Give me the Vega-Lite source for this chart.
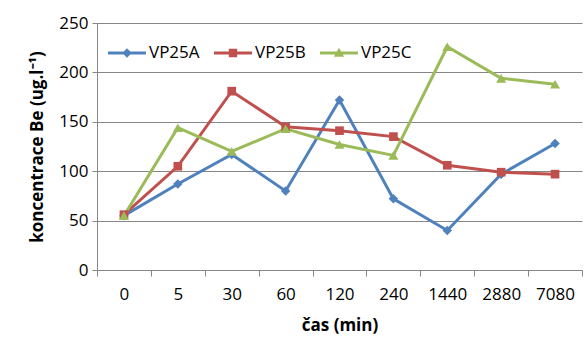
{
  "$schema": "https://vega.github.io/schema/vega-lite/v6.json",
  "width": 485,
  "height": 247,
  "autosize": {"type": "none"},
  "padding": {"left": 97, "top": 23, "right": 5, "bottom": 70},
  "background": "white",
  "config": {
    "font": "Open Sans",
    "view": {"stroke": null},
    "axis": {"labelFont": "Open Sans", "titleFont": "Open Sans", "labelColor": "#000", "titleColor": "#000", "labelFontSize": 17, "titleFontSize": 17, "titleFontWeight": "bold"},
    "legend": {"orient": "none", "legendX": 11, "legendY": 11, "direction": "horizontal", "symbolSize": 1444, "symbolOpacity": 1, "symbolStrokeWidth": 0, "labelFontSize": 17, "labelOffset": 3, "columnPadding": 14, "padding": 0, "labelColor": "#000", "labelFont": "Open Sans"}
  },
  "data": {"values": [
    {"t": "0", "s": "VP25A", "v": 55}, {"t": "5", "s": "VP25A", "v": 87}, {"t": "30", "s": "VP25A", "v": 117},
    {"t": "60", "s": "VP25A", "v": 80}, {"t": "120", "s": "VP25A", "v": 172}, {"t": "240", "s": "VP25A", "v": 72},
    {"t": "1440", "s": "VP25A", "v": 40}, {"t": "2880", "s": "VP25A", "v": 97}, {"t": "7080", "s": "VP25A", "v": 128},
    {"t": "0", "s": "VP25B", "v": 56}, {"t": "5", "s": "VP25B", "v": 105}, {"t": "30", "s": "VP25B", "v": 181},
    {"t": "60", "s": "VP25B", "v": 145}, {"t": "120", "s": "VP25B", "v": 141}, {"t": "240", "s": "VP25B", "v": 135},
    {"t": "1440", "s": "VP25B", "v": 106}, {"t": "2880", "s": "VP25B", "v": 99}, {"t": "7080", "s": "VP25B", "v": 97},
    {"t": "0", "s": "VP25C", "v": 55}, {"t": "5", "s": "VP25C", "v": 144}, {"t": "30", "s": "VP25C", "v": 120},
    {"t": "60", "s": "VP25C", "v": 143}, {"t": "120", "s": "VP25C", "v": 127}, {"t": "240", "s": "VP25C", "v": 116},
    {"t": "1440", "s": "VP25C", "v": 226}, {"t": "2880", "s": "VP25C", "v": 194}, {"t": "7080", "s": "VP25C", "v": 188}
  ]},
  "encoding": {
    "x": {
      "field": "t", "type": "nominal",
      "sort": ["0", "5", "30", "60", "120", "240", "1440", "2880", "7080"],
      "scale": {"type": "band", "paddingInner": 0, "paddingOuter": 0},
      "axis": {"title": "čas (min)", "labelAngle": 0, "tickBand": "extent", "grid": false, "domainColor": "#868686", "tickColor": "#868686", "tickSize": 6, "labelPadding": 10, "titlePadding": 15}
    },
    "y": {
      "field": "v", "type": "quantitative",
      "scale": {"domain": [0, 250], "nice": false},
      "axis": {"title": "koncentrace Be (ug.l⁻¹)", "values": [0, 50, 100, 150, 200, 250], "gridColor": "#868686", "domainColor": "#868686", "tickColor": "#868686", "tickSize": 5, "labelPadding": 4, "titlePadding": 12}
    },
    "color": {
      "field": "s", "type": "nominal", "title": null,
      "scale": {"domain": ["VP25A", "VP25B", "VP25C"], "range": ["#4F81BD", "#C0504D", "#9BBB59"]}
    }
  },
  "layer": [
    {
      "mark": {"type": "point", "filled": true, "opacity": 0},
      "encoding": {
        "shape": {
          "field": "s", "type": "nominal", "title": null,
          "scale": {"domain": ["VP25A", "VP25B", "VP25C"], "range": [
            "M-1,-0.08H1V0.08H-1Z M0,-0.25L0.25,0L0,0.25L-0.25,0Z",
            "M-1,-0.08H1V0.08H-1Z M-0.22,-0.22H0.22V0.22H-0.22Z",
            "M-1,-0.08H1V0.08H-1Z M0,-0.27L0.27,0.2L-0.27,0.2Z"
          ]}
        }
      }
    },
    {"mark": {"type": "line", "strokeWidth": 3}},
    {"transform": [{"filter": "datum.s === 'VP25A'"}], "mark": {"type": "point", "filled": true, "opacity": 1, "shape": "diamond", "size": 90}},
    {"transform": [{"filter": "datum.s === 'VP25B'"}], "mark": {"type": "point", "filled": true, "opacity": 1, "shape": "square", "size": 75}},
    {"transform": [{"filter": "datum.s === 'VP25C'"}], "mark": {"type": "point", "filled": true, "opacity": 1, "shape": "triangle-up", "size": 100}}
  ]
}
